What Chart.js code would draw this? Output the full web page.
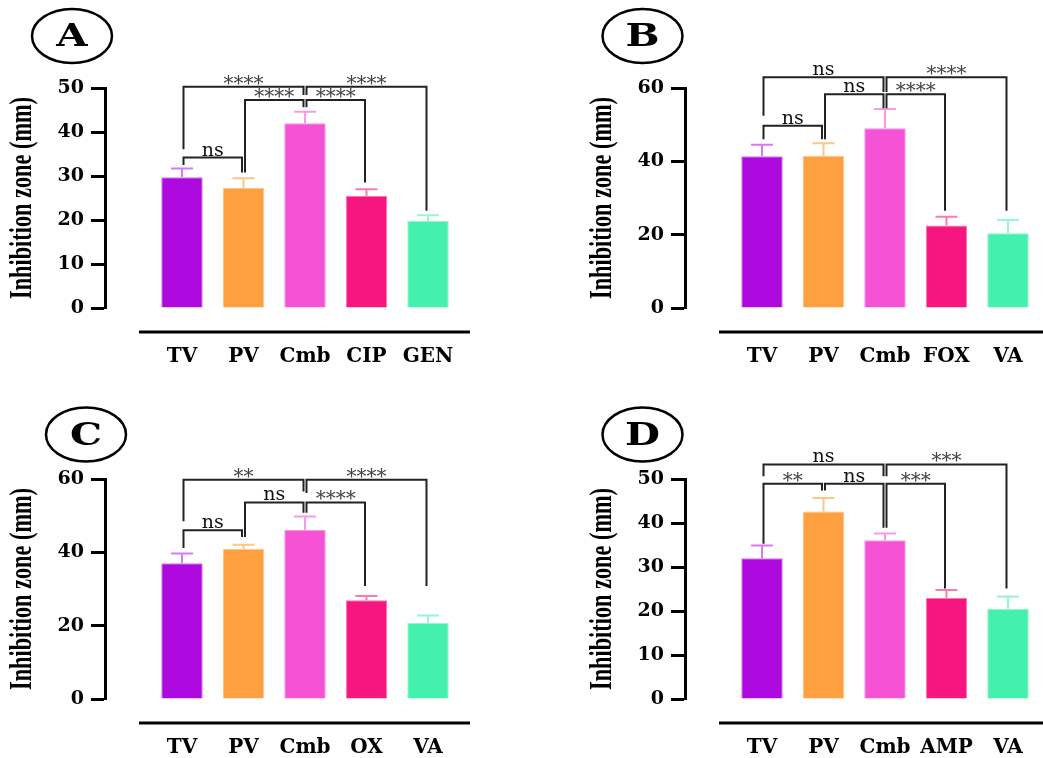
<!DOCTYPE html>
<html>
<head>
<meta charset="utf-8">
<script src="https://cdn.jsdelivr.net/npm/chart.js@4.4.1/dist/chart.umd.min.js"></script>
<style>
  html, body { margin: 0; padding: 0; background: #fff; overflow: hidden; }
  body { width: 1043px; height: 758px; position: relative; }
  canvas { position: absolute; }
</style>
</head>
<body>
<canvas id="chartA" width="470" height="379" style="left:0px;top:0px"></canvas>
<canvas id="chartB" width="470" height="379" style="left:580px;top:0px"></canvas>
<canvas id="chartC" width="470" height="367" style="left:0px;top:391px"></canvas>
<canvas id="chartD" width="470" height="367" style="left:580px;top:391px"></canvas>
<script>
// ---- data ----
const labelsA = ['TV', 'PV', 'Cmb', 'CIP', 'GEN'];
const meansA = [29.7, 27.3, 42.0, 25.5, 19.8];
const errA = [2.0, 2.2, 2.6, 1.5, 1.3];
// [from, to, level, left leg end, right leg end, label]
const bracketsA = [
    [0, 1, 34.2, 32.5, 30.8, 'ns'],
    [1, 2, 47.3, 30.8, 45.6, '****'],
    [2, 3, 47.3, 45.6, 28.5, '****'],
    [0, 2, 50.3, 36.1, 48.4, '****'],
    [2, 4, 50.3, 48.4, 22.1, '****']
];

const labelsB = ['TV', 'PV', 'Cmb', 'FOX', 'VA'];
const meansB = [41.4, 41.5, 49.0, 22.5, 20.4];
const errB = [3.1, 3.4, 5.3, 2.4, 3.6];
const bracketsB = [
    [0, 1, 49.7, 46.0, 46.0, 'ns'],
    [1, 2, 58.3, 46.0, 54.5, 'ns'],
    [2, 3, 58.3, 54.5, 26.5, '****'],
    [0, 2, 62.9, 52.4, 58.9, 'ns'],
    [2, 4, 62.9, 58.9, 26.5, '****']
];

const labelsC = ['TV', 'PV', 'Cmb', 'OX', 'VA'];
const meansC = [37.0, 41.0, 46.1, 26.9, 20.7];
const errC = [2.7, 1.1, 3.7, 1.2, 2.1];
const bracketsC = [
    [0, 1, 46.0, 41.2, 44.2, 'ns'],
    [1, 2, 53.6, 44.2, 50.8, 'ns'],
    [2, 3, 53.6, 50.8, 30.8, '****'],
    [0, 2, 59.8, 48.5, 56.6, '**'],
    [2, 4, 59.8, 56.2, 30.8, '****']
];

const labelsD = ['TV', 'PV', 'Cmb', 'AMP', 'VA'];
const meansD = [32.0, 42.6, 36.1, 23.0, 20.5];
const errD = [2.9, 3.1, 1.5, 1.8, 2.8];
const bracketsD = [
    [0, 1, 48.9, 35.3, 47.4, '**'],
    [1, 2, 48.9, 47.4, 38.9, 'ns'],
    [2, 3, 48.9, 38.9, 25.1, '***'],
    [0, 2, 53.3, 50.6, 50.6, 'ns'],
    [2, 4, 53.3, 50.6, 25.1, '***']
];

// colours shared by all panels
const barColors = ['#AE0AE0', '#FFA040', '#F652D5', '#F7157F', '#43F0AC'];
const edgeColors = ['#D57CF0', '#FFC488', '#FA9AE6', '#FA7AB5', '#96F6D0'];

const yTitle = 'Inhibition zone (mm)';
const FONT = "'DejaVu Serif', serif";

// draws error bars, significance brackets, panel letter, axis title and the detached x line
function makeExtras(p) {
    return {
        id: 'extras' + p.letter,
        afterDraw(chart) {
            const ctx = chart.ctx;
            const xs = chart.scales.x;
            const ys = chart.scales.y;
            const area = chart.chartArea;
            ctx.save();

            // error bars (upper whisker only, like the original)
            p.means.forEach((m, i) => {
                const x = xs.getPixelForValue(i + 1);
                const y0 = ys.getPixelForValue(m);
                const y1 = ys.getPixelForValue(m + p.err[i]);
                ctx.strokeStyle = edgeColors[i];
                ctx.lineWidth = 2;
                ctx.beginPath();
                ctx.moveTo(x, y0);
                ctx.lineTo(x, y1);
                ctx.moveTo(x - 11, y1);
                ctx.lineTo(x + 11, y1);
                ctx.stroke();
            });

            // brackets
            p.brackets.forEach(b => {
                const xa = xs.getPixelForValue(b[0] + 1) + 1.5;
                const xb = xs.getPixelForValue(b[1] + 1) - 1.5;
                const yl = ys.getPixelForValue(b[2]);
                ctx.strokeStyle = '#222';
                ctx.lineWidth = 2;
                ctx.beginPath();
                ctx.moveTo(xa, ys.getPixelForValue(b[3]));
                ctx.lineTo(xa, yl);
                ctx.lineTo(xb, yl);
                ctx.lineTo(xb, ys.getPixelForValue(b[4]));
                ctx.stroke();

                ctx.textAlign = 'center';
                ctx.textBaseline = 'alphabetic';
                if (b[5] === 'ns') {
                    ctx.font = '19px ' + FONT;
                    ctx.fillStyle = '#111';
                    ctx.fillText(b[5], (xa + xb) / 2, yl - 2);
                } else {
                    ctx.font = '20px ' + FONT;
                    ctx.fillStyle = '#444';
                    ctx.fillText(b[5], (xa + xb) / 2, yl + 3);
                }
            });

            // detached x axis line
            ctx.strokeStyle = '#000';
            ctx.lineWidth = 3;
            ctx.beginPath();
            ctx.moveTo(area.left + 34, 332);
            ctx.lineTo(area.right, 332);
            ctx.stroke();

            // y axis title, condensed serif
            ctx.save();
            ctx.translate(area.left - 82, 198);
            ctx.rotate(-Math.PI / 2);
            ctx.font = "bold 31px 'Liberation Serif', serif";
            const w = ctx.measureText(yTitle).width;
            ctx.scale(202 / w, 1);
            ctx.fillStyle = '#000';
            ctx.textAlign = 'center';
            ctx.textBaseline = 'middle';
            ctx.fillText(yTitle, 0, 0);
            ctx.restore();

            // circled panel letter
            ctx.save();
            ctx.strokeStyle = '#000';
            ctx.lineWidth = 2.5;
            ctx.beginPath();
            ctx.ellipse(p.badge[0], p.badge[1], 40, 27, 0, 0, Math.PI * 2);
            ctx.stroke();
            ctx.translate(p.badge[0], p.badge[1] + 2);
            ctx.scale(1.3, 1);
            ctx.font = 'bold 31px ' + FONT;
            ctx.fillStyle = '#000';
            ctx.textAlign = 'center';
            ctx.textBaseline = 'middle';
            ctx.fillText(p.letter, 0, 0);
            ctx.restore();

            ctx.restore();
        }
    };
}

function drawPanel(canvasId, p) {
    const canvas = document.getElementById(canvasId);
    new Chart(canvas.getContext('2d'), {
        type: 'bar',
        data: {
            datasets: [{
                data: p.means.map((m, i) => ({ x: i + 1, y: m })),
                backgroundColor: barColors,
                borderColor: edgeColors,
                borderWidth: 1,
                barPercentage: 0.675,
                categoryPercentage: 1
            }]
        },
        options: {
            responsive: false,
            animation: false,
            devicePixelRatio: 1,
            layout: { padding: { top: 88, left: 0, right: 0, bottom: 0 } },
            plugins: { legend: { display: false }, tooltip: { enabled: false } },
            scales: {
                x: {
                    type: 'linear',
                    offset: false,
                    min: -0.252,
                    max: 5.683,
                    grid: { display: false, drawTicks: false },
                    border: { display: false },
                    afterBuildTicks: s => { s.ticks = p.labels.map((_, i) => ({ value: i + 1 })); },
                    afterFit: s => {
                        s.height = canvas.height - 88 - 220;
                        s.paddingLeft = 0;
                        s.paddingRight = 0;
                    },
                    ticks: {
                        autoSkip: false,
                        maxRotation: 0,
                        padding: 37,
                        color: '#000',
                        font: { family: FONT, size: 20, weight: 'bold' },
                        callback: v => p.labels[v - 1]
                    }
                },
                y: {
                    min: 0,
                    max: p.yMax,
                    afterFit: s => {
                        s.width = 105;
                        s.paddingTop = 0;
                        s.paddingBottom = 0;
                    },
                    grid: {
                        drawOnChartArea: false,
                        drawTicks: true,
                        tickLength: 14,
                        tickWidth: 3,
                        tickColor: '#000'
                    },
                    border: { display: true, width: 3, color: '#000' },
                    ticks: {
                        stepSize: p.step,
                        padding: 7,
                        color: '#000',
                        font: { family: FONT, size: 19, weight: 'bold' }
                    }
                }
            }
        },
        plugins: [makeExtras(p)]
    });
}

drawPanel('chartA', { letter: 'A', labels: labelsA, means: meansA, err: errA, brackets: bracketsA, yMax: 50, step: 10, badge: [72, 36] });
drawPanel('chartB', { letter: 'B', labels: labelsB, means: meansB, err: errB, brackets: bracketsB, yMax: 60, step: 20, badge: [62.5, 36] });
drawPanel('chartC', { letter: 'C', labels: labelsC, means: meansC, err: errC, brackets: bracketsC, yMax: 60, step: 20, badge: [86, 43.5] });
drawPanel('chartD', { letter: 'D', labels: labelsD, means: meansD, err: errD, brackets: bracketsD, yMax: 50, step: 10, badge: [62.5, 43.5] });
</script>
</body>
</html>
